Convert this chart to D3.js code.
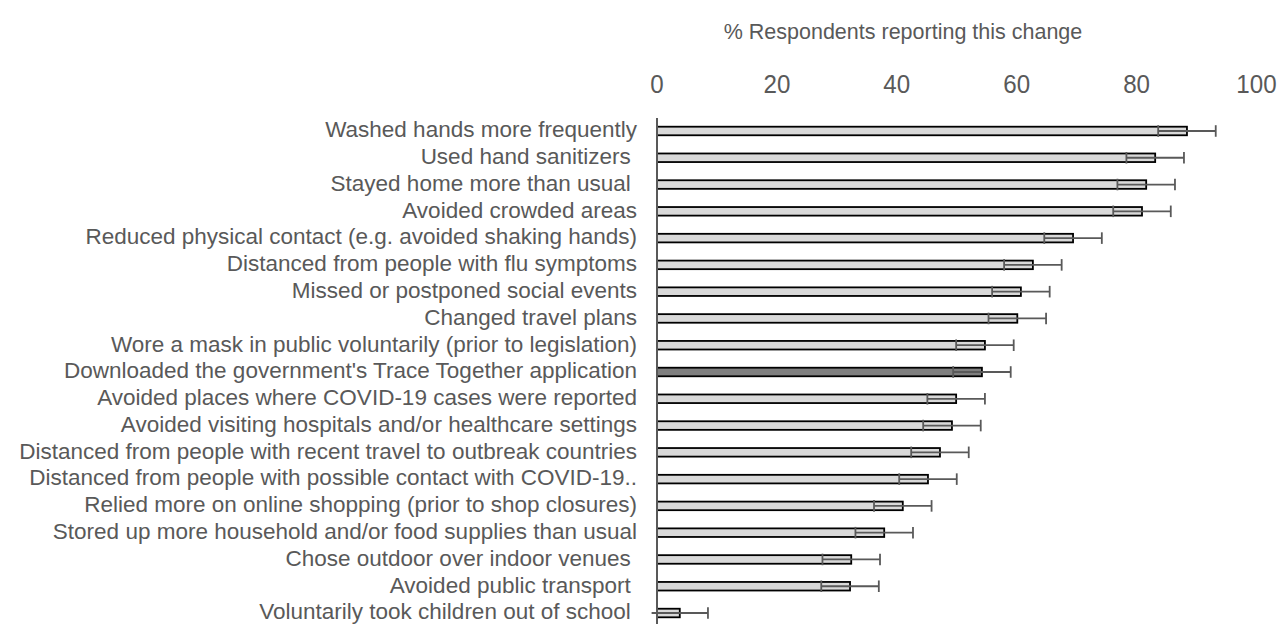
<!DOCTYPE html>
<meta charset="utf-8">
<style>
body { margin: 0; background: #fff; }
text { font-family: "Liberation Sans", Arial, sans-serif; fill: #595959; white-space: pre; }
</style>
<body>
<script src="https://d3js.org/d3.v7.min.js"></script>
<script>

var width = 1283,
    height = 624;

var labels = [
  "Washed hands more frequently",
  "Used hand sanitizers ",
  "Stayed home more than usual ",
  "Avoided crowded areas",
  "Reduced physical contact (e.g. avoided shaking hands)",
  "Distanced from people with flu symptoms",
  "Missed or postponed social events",
  "Changed travel plans",
  "Wore a mask in public voluntarily (prior to legislation)",
  "Downloaded the government's Trace Together application",
  "Avoided places where COVID-19 cases were reported",
  "Avoided visiting hospitals and/or healthcare settings",
  "Distanced from people with recent travel to outbreak countries",
  "Distanced from people with possible contact with COVID-19..",
  "Relied more on online shopping (prior to shop closures)",
  "Stored up more household and/or food supplies than usual",
  "Chose outdoor over indoor venues ",
  "Avoided public transport ",
  "Voluntarily took children out of school "
];

var values = [88.4, 83.1, 81.6, 80.9, 69.4, 62.7, 60.7, 60.1, 54.7, 54.2,
              49.9, 49.2, 47.2, 45.2, 41.0, 37.9, 32.4, 32.2, 3.8];

var errors = [4.8, 4.8, 4.8, 4.8, 4.8, 4.8, 4.8, 4.8, 4.8, 4.8,
              4.8, 4.8, 4.8, 4.8, 4.8, 4.8, 4.8, 4.8, 4.7];

var highlight = "Downloaded the government's Trace Together application";

var ticks = [0, 20, 40, 60, 80, 100];

var svg = d3.select("body").append("svg")
    .attr("width", width)
    .attr("height", height);

var x = d3.scaleLinear().domain([0, 100]).range([657, 1256.5]);

var y = d3.scaleBand()
    .domain(labels)
    .range([117.6, 626.4])
    .paddingInner(0.68)
    .paddingOuter(0.34);

// title
svg.append("text")
    .attr("x", 903)
    .attr("y", 39)
    .attr("text-anchor", "middle")
    .style("font-size", "21.5px")
    .text("% Respondents reporting this change");

// top axis labels (slightly condensed like the original)
svg.selectAll(".tick-label")
    .data(ticks)
  .enter().append("text")
    .attr("class", "tick-label")
    .attr("transform", function(d) { return "translate(" + x(d) + ",93) scale(0.93,1)"; })
    .attr("text-anchor", "middle")
    .style("font-size", "26px")
    .text(function(d) { return d; });

// category labels
svg.selectAll(".cat")
    .data(labels)
  .enter().append("text")
    .attr("class", "cat")
    .attr("x", 637)
    .attr("y", function(d) { return y(d) + y.bandwidth() / 2; })
    .attr("dy", "0.28em")
    .attr("text-anchor", "end")
    .style("font-size", "22.5px")
    .text(function(d) { return d; });

var rows = labels.map(function(d, i) { return {label: d, value: values[i], err: errors[i]}; });

// bars
svg.selectAll(".bar")
    .data(rows)
  .enter().append("rect")
    .attr("class", "bar")
    .attr("x", x(0))
    .attr("y", function(d) { return y(d.label); })
    .attr("width", function(d) { return x(d.value) - x(0); })
    .attr("height", y.bandwidth())
    .attr("fill", function(d) { return d.label === highlight ? "#7f7f7f" : "#d9d9d9"; })
    .attr("stroke", "#000")
    .attr("stroke-width", 1.8);

// error bars
var eb = svg.selectAll(".err")
    .data(rows)
  .enter().append("g")
    .attr("class", "err")
    .attr("stroke", "#595959")
    .attr("stroke-width", 1.8);

eb.append("line")
    .attr("x1", function(d) { return x(d.value - d.err); })
    .attr("x2", function(d) { return x(d.value + d.err); })
    .attr("y1", function(d) { return y(d.label) + y.bandwidth() / 2; })
    .attr("y2", function(d) { return y(d.label) + y.bandwidth() / 2; });

[-1, 1].forEach(function(s) {
  eb.append("line")
      .attr("x1", function(d) { return x(Math.max(0, d.value + s * d.err)); })
      .attr("x2", function(d) { return x(Math.max(0, d.value + s * d.err)); })
      .attr("y1", function(d) { return y(d.label) - 1.5; })
      .attr("y2", function(d) { return y(d.label) + y.bandwidth() + 1.5; });
});

// vertical axis line
svg.append("line")
    .attr("x1", x(0))
    .attr("x2", x(0))
    .attr("y1", 118)
    .attr("y2", height)
    .attr("stroke", "#595959")
    .attr("stroke-width", 2);

</script>
